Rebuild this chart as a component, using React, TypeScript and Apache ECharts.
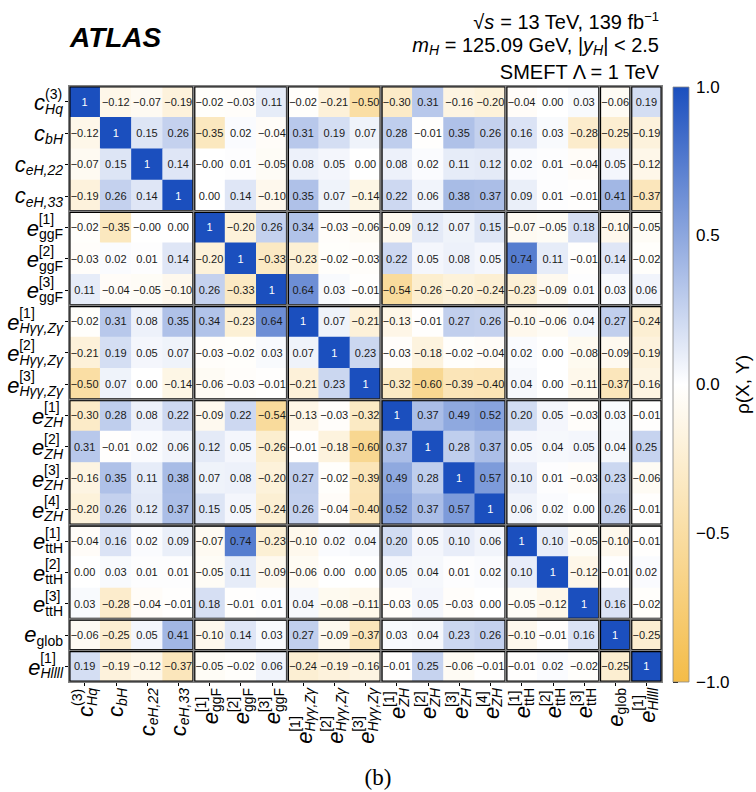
import React, { useEffect, useRef } from 'react';
import * as echarts from 'echarts';

// ---------- data ----------
const paramNames = [
  'cHq3', 'cbH', 'ceH22', 'ceH33', 'eggF1', 'eggF2', 'eggF3',
  'eHgg1', 'eHgg2', 'eHgg3', 'eZH1', 'eZH2', 'eZH3', 'eZH4',
  'ettH1', 'ettH2', 'ettH3', 'eglob', 'eHllll1',
];
const labelMain = ['c', 'c', 'c', 'c', 'e', 'e', 'e', 'e', 'e', 'e', 'e', 'e', 'e', 'e', 'e', 'e', 'e', 'e', 'e'];
const labelSup = ['(3)', '', '', '', '[1]', '[2]', '[3]', '[1]', '[2]', '[3]', '[1]', '[2]', '[3]', '[4]', '[1]', '[2]', '[3]', '', '[1]'];
const labelSub = ['Hq', 'bH', 'eH,22', 'eH,33', 'ggF', 'ggF', 'ggF', 'Hγγ,Zγ', 'Hγγ,Zγ', 'Hγγ,Zγ', 'ZH', 'ZH', 'ZH', 'ZH', 'ttH', 'ttH', 'ttH', 'glob', 'Hllll'];
const subItalic = [true, true, true, true, false, false, false, true, true, true, true, true, true, true, false, false, false, false, true];

// block boundaries (inclusive index ranges)
const groups = [[0, 3], [4, 6], [7, 9], [10, 13], [14, 16], [17, 17], [18, 18]];

const correlations = [
  [1, -0.12, -0.07, -0.19, -0.02, -0.03, 0.11, -0.02, -0.21, -0.50, -0.30, 0.31, -0.16, -0.20, -0.04, 0.00, 0.03, -0.06, 0.19],
  [-0.12, 1, 0.15, 0.26, -0.35, 0.02, -0.04, 0.31, 0.19, 0.07, 0.28, -0.01, 0.35, 0.26, 0.16, 0.03, -0.28, -0.25, -0.19],
  [-0.07, 0.15, 1, 0.14, -0.00, 0.01, -0.05, 0.08, 0.05, 0.00, 0.08, 0.02, 0.11, 0.12, 0.02, 0.01, -0.04, 0.05, -0.12],
  [-0.19, 0.26, 0.14, 1, 0.00, 0.14, -0.10, 0.35, 0.07, -0.14, 0.22, 0.06, 0.38, 0.37, 0.09, 0.01, -0.01, 0.41, -0.37],
  [-0.02, -0.35, -0.00, 0.00, 1, -0.20, 0.26, 0.34, -0.03, -0.06, -0.09, 0.12, 0.07, 0.15, -0.07, -0.05, 0.18, -0.10, -0.05],
  [-0.03, 0.02, 0.01, 0.14, -0.20, 1, -0.33, -0.23, -0.02, -0.03, 0.22, 0.05, 0.08, 0.05, 0.74, 0.11, -0.01, 0.14, -0.02],
  [0.11, -0.04, -0.05, -0.10, 0.26, -0.33, 1, 0.64, 0.03, -0.01, -0.54, -0.26, -0.20, -0.24, -0.23, -0.09, 0.01, 0.03, 0.06],
  [-0.02, 0.31, 0.08, 0.35, 0.34, -0.23, 0.64, 1, 0.07, -0.21, -0.13, -0.01, 0.27, 0.26, -0.10, -0.06, 0.04, 0.27, -0.24],
  [-0.21, 0.19, 0.05, 0.07, -0.03, -0.02, 0.03, 0.07, 1, 0.23, -0.03, -0.18, -0.02, -0.04, 0.02, 0.00, -0.08, -0.09, -0.19],
  [-0.50, 0.07, 0.00, -0.14, -0.06, -0.03, -0.01, -0.21, 0.23, 1, -0.32, -0.60, -0.39, -0.40, 0.04, 0.00, -0.11, -0.37, -0.16],
  [-0.30, 0.28, 0.08, 0.22, -0.09, 0.22, -0.54, -0.13, -0.03, -0.32, 1, 0.37, 0.49, 0.52, 0.20, 0.05, -0.03, 0.03, -0.01],
  [0.31, -0.01, 0.02, 0.06, 0.12, 0.05, -0.26, -0.01, -0.18, -0.60, 0.37, 1, 0.28, 0.37, 0.05, 0.04, 0.05, 0.04, 0.25],
  [-0.16, 0.35, 0.11, 0.38, 0.07, 0.08, -0.20, 0.27, -0.02, -0.39, 0.49, 0.28, 1, 0.57, 0.10, 0.01, -0.03, 0.23, -0.06],
  [-0.20, 0.26, 0.12, 0.37, 0.15, 0.05, -0.24, 0.26, -0.04, -0.40, 0.52, 0.37, 0.57, 1, 0.06, 0.02, 0.00, 0.26, -0.01],
  [-0.04, 0.16, 0.02, 0.09, -0.07, 0.74, -0.23, -0.10, 0.02, 0.04, 0.20, 0.05, 0.10, 0.06, 1, 0.10, -0.05, -0.10, -0.01],
  [0.00, 0.03, 0.01, 0.01, -0.05, 0.11, -0.09, -0.06, 0.00, 0.00, 0.05, 0.04, 0.01, 0.02, 0.10, 1, -0.12, -0.01, 0.02],
  [0.03, -0.28, -0.04, -0.01, 0.18, -0.01, 0.01, 0.04, -0.08, -0.11, -0.03, 0.05, -0.03, 0.00, -0.05, -0.12, 1, 0.16, -0.02],
  [-0.06, -0.25, 0.05, 0.41, -0.10, 0.14, 0.03, 0.27, -0.09, -0.37, 0.03, 0.04, 0.23, 0.26, -0.10, -0.01, 0.16, 1, -0.25],
  [0.19, -0.19, -0.12, -0.37, -0.05, -0.02, 0.06, -0.24, -0.19, -0.16, -0.01, 0.25, -0.06, -0.01, -0.01, 0.02, -0.02, -0.25, 1],
];

const colorbarRange = [-1, 1];

// ---------- styling ----------
const LF = '"Liberation Sans", Arial, Helvetica, sans-serif';
const SERIF = '"Liberation Serif", "DejaVu Serif", serif';
const BLUE = '#1b4fbe';
const ORANGE = '#f4bc48';

const MINUS = '\u2212';
function fmtCell(v: number): string {
  if (v === 1) return '1';
  const s = Math.abs(v).toFixed(2);
  return v < 0 || Object.is(v, -0) ? MINUS + s : s;
}
function fmtTick(v: number): string {
  const s = Math.abs(v).toFixed(1);
  return v < 0 ? MINUS + s : s;
}

function buildRich() {
  const canvas = document.createElement('canvas');
  const ctx = canvas.getContext('2d')!;
  const measure = (t: string, size: number, italic: boolean) => {
    ctx.font = `${italic ? 'italic ' : ''}${size}px ${LF}`;
    return ctx.measureText(t).width;
  };
  const rich: any = {
    m: { fontFamily: LF, fontSize: 22, fontStyle: 'italic', color: '#000', lineHeight: 16, align: 'left' },
  };
  labelSub.forEach((sub, i) => {
    const mw = Math.round(measure(labelMain[i], 22, true));
    rich['b' + i] = {
      fontFamily: LF, fontSize: 14, fontStyle: subItalic[i] ? 'italic' : 'normal', color: '#000',
      lineHeight: 1, padding: [12, 0, 0, 0], align: 'left',
    };
    rich['p' + i] = {
      fontFamily: LF, fontSize: 14, fontStyle: 'normal', color: '#000',
      lineHeight: 2, padding: [0, 0, 0, mw], align: 'left',
    };
  });
  return rich;
}

function labelText(i: number): string {
  const main = `{m|${labelMain[i]}}{b${i}|${labelSub[i]}}`;
  if (!labelSup[i]) return main;
  return `{p${i}|${labelSup[i]}}\n${main}`;
}

function buildOption() {
  const rich = buildRich();
  const n = paramNames.length;
  const heatData: number[][] = [];
  for (let r = 0; r < n; r++) {
    for (let c = 0; c < n; c++) heatData.push([c, r, correlations[r][c]]);
  }
  const blocks: number[][] = [];
  groups.forEach((gy) => groups.forEach((gx) => blocks.push([gx[0], gx[1], gy[0], gy[1]])));

  const catAxisCommon = {
    type: 'category',
    gridIndex: 0,
    data: paramNames,
    axisLine: { show: false },
    axisTick: { show: true, alignWithLabel: true, length: 4, lineStyle: { color: '#000', width: 1 } },
    splitLine: { show: false },
    splitArea: { show: false },
  };

  const titleRich = {
    n: { fontFamily: LF, fontSize: 20, fill: '#000', lineHeight: 22 },
    i: { fontFamily: LF, fontSize: 20, fontStyle: 'italic', fill: '#000', lineHeight: 22 },
    sp: { fontFamily: LF, fontSize: 13, fill: '#000', lineHeight: 22, padding: [0, 0, 12, 0] },
    sb: { fontFamily: LF, fontSize: 14, fontStyle: 'italic', fill: '#000', lineHeight: 22, padding: [10, 0, 0, 0] },
  };

  return {
    animation: false,
    textStyle: { fontFamily: LF },
    grid: [
      { left: 69, top: 86, width: 593, height: 596 },
      { left: 673, top: 87, width: 16, height: 595 },
    ],
    xAxis: [
      {
        ...catAxisCommon,
        position: 'bottom',
        axisLabel: { interval: 0, rotate: 90, margin: 6, formatter: (_v: string, i: number) => labelText(i), rich },
      },
      { type: 'value', gridIndex: 1, min: 0, max: 1, show: false },
    ],
    yAxis: [
      {
        ...catAxisCommon,
        inverse: true,
        axisLabel: { interval: 0, margin: 6, formatter: (_v: string, i: number) => labelText(i), rich },
      },
      {
        type: 'value', gridIndex: 1, min: colorbarRange[0], max: colorbarRange[1], interval: 0.5, position: 'right',
        axisLine: { show: false },
        axisTick: { show: true, length: 5, lineStyle: { color: '#000', width: 1 } },
        axisLabel: { margin: 7, fontSize: 17, color: '#000', fontFamily: LF, formatter: (v: number) => fmtTick(v) },
        splitLine: { show: false },
        name: 'ρ(X, Y)', nameLocation: 'middle', nameRotate: 90, nameGap: 43,
        nameTextStyle: { fontSize: 19, color: '#000', fontFamily: LF },
      },
    ],
    visualMap: {
      type: 'continuous', show: false, min: colorbarRange[0], max: colorbarRange[1], dimension: 2, seriesIndex: 0,
      inRange: { color: [ORANGE, '#ffffff', BLUE] },
    },
    series: [
      {
        type: 'heatmap',
        xAxisIndex: 0, yAxisIndex: 0,
        data: heatData,
        emphasis: { disabled: true },
        label: {
          show: true,
          formatter: (p: any) => {
            const v = correlations[p.data[1]][p.data[0]];
            return v === 1 ? '{w|1}' : `{k|${fmtCell(v)}}`;
          },
          rich: {
            w: { color: '#ffffff', fontSize: 11, fontFamily: LF },
            k: { color: '#1a1a1a', fontSize: 11, fontFamily: LF },
          },
        },
      },
      {
        type: 'custom',
        xAxisIndex: 0, yAxisIndex: 0,
        data: blocks,
        encode: { x: [0, 1], y: [2, 3] },
        z: 10,
        silent: true,
        renderItem: (_params: any, api: any) => {
          const p0 = api.coord([api.value(0), api.value(2)]);
          const p1 = api.coord([api.value(1), api.value(3)]);
          const sz = api.size([1, 1]);
          const left = p0[0] - sz[0] / 2;
          const top = p0[1] - sz[1] / 2;
          const w = p1[0] - p0[0] + sz[0];
          const h = p1[1] - p0[1] + sz[1];
          return {
            type: 'group',
            children: [
              { type: 'rect', shape: { x: left, y: top, width: w, height: h }, style: { fill: 'none', stroke: '#808080', lineWidth: 2 } },
              { type: 'rect', shape: { x: left + 1, y: top + 1, width: w - 2, height: h - 2 }, style: { fill: 'none', stroke: '#000', lineWidth: 1.1 } },
            ],
          };
        },
      },
      {
        type: 'custom',
        xAxisIndex: 1, yAxisIndex: 1,
        data: [[0, colorbarRange[0], 1, colorbarRange[1]]],
        encode: { x: [0, 2], y: [1, 3] },
        silent: true,
        renderItem: (_params: any, api: any) => {
          const pTop = api.coord([api.value(0), api.value(3)]);
          const pBot = api.coord([api.value(2), api.value(1)]);
          return {
            type: 'rect',
            shape: { x: pTop[0], y: pTop[1], width: pBot[0] - pTop[0], height: pBot[1] - pTop[1] },
            style: {
              fill: new echarts.graphic.LinearGradient(0, 0, 0, 1, [
                { offset: 0, color: BLUE },
                { offset: 0.5, color: '#ffffff' },
                { offset: 1, color: ORANGE },
              ]),
              stroke: '#888',
              lineWidth: 0.8,
            },
          };
        },
      },
    ],
    graphic: [
      {
        type: 'text', x: 70, y: 37,
        style: { text: 'ATLAS', fontSize: 28, fontWeight: 'bold', fontStyle: 'italic', fontFamily: LF, fill: '#000', align: 'left', verticalAlign: 'middle' },
      },
      {
        type: 'text', x: 659, y: 22,
        style: { text: '{n|√}{i|s}{n| = 13 TeV, 139 fb}{sp|−1}', rich: titleRich, align: 'right', verticalAlign: 'middle' },
      },
      {
        type: 'text', x: 659, y: 45,
        style: { text: '{i|m}{sb|H}{n| = 125.09 GeV, |}{i|y}{sb|H}{n|| < 2.5}', rich: titleRich, align: 'right', verticalAlign: 'middle' },
      },
      {
        type: 'text', x: 659, y: 72,
        style: { text: '{n|SMEFT Λ = 1 TeV}', rich: titleRich, align: 'right', verticalAlign: 'middle' },
      },
      {
        type: 'text', x: 378, y: 777,
        style: { text: '(b)', fontSize: 23, fontFamily: SERIF, fill: '#000', align: 'center', verticalAlign: 'middle' },
      },
    ],
  };
}

export default function App() {
  const ref = useRef<HTMLDivElement>(null);
  useEffect(() => {
    document.body.style.margin = '0';
    const chart = echarts.init(ref.current!, null, { renderer: 'svg' });
    chart.setOption(buildOption() as any);
    return () => chart.dispose();
  }, []);
  return <div ref={ref} style={{ width: 756, height: 792 }} />;
}
